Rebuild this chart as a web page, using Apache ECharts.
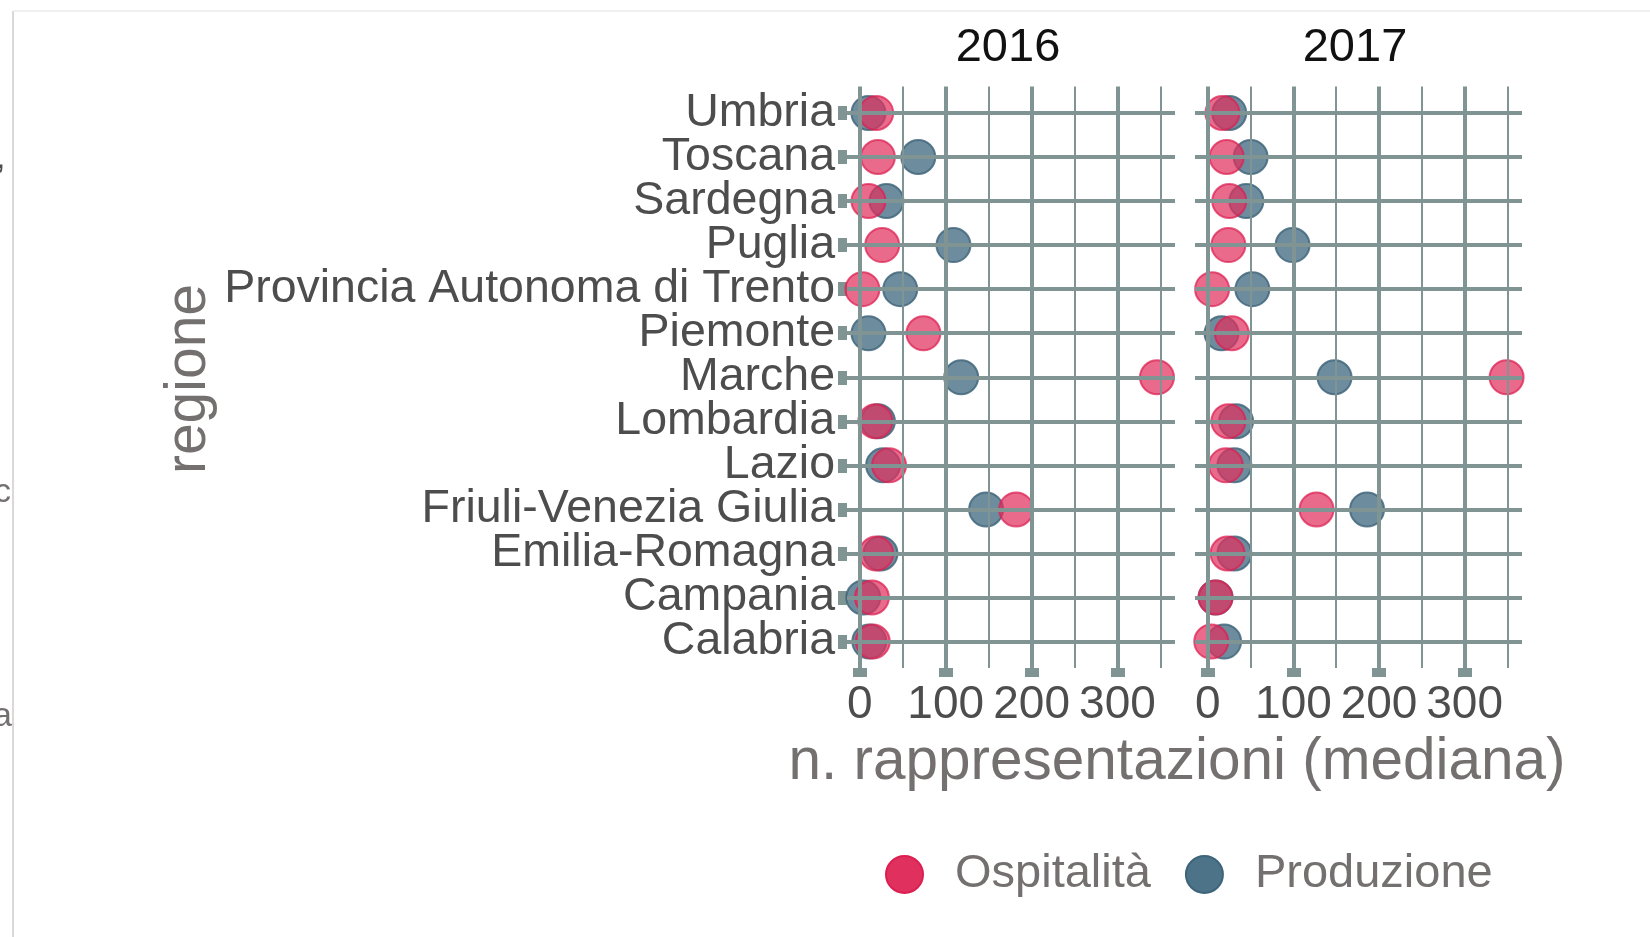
<!DOCTYPE html>
<html><head><meta charset="utf-8">
<script src="https://cdn.jsdelivr.net/npm/echarts@6/dist/echarts.min.js"></script>
<style>html,body{margin:0;padding:0;background:#fff}#c{width:1650px;height:937px}</style>
</head><body><div id="c"></div>
<script>
// ---- data (bottom-to-top order, as in the plot) ----
const regions = ['Calabria','Campania','Emilia-Romagna','Friuli-Venezia Giulia','Lazio','Lombardia','Marche','Piemonte','Provincia Autonoma di Trento','Puglia','Sardegna','Toscana','Umbria'];
const years = ['2016','2017'];
const ospitalita2016 = [15,14,19,182,34,18,346,74,3,26,10,21,19];
const produzione2016 = [11,4,24,147,27,21,118,10,47,109,31,68,10];
const ospitalita2017 = [4,9,23,127,21,24,349,28,5,24,25,22,17];
const produzione2017 = [19,9,31,186,31,33,148,16,52,99,45,50,25];
const majorTicks = [0,100,200,300];
const minorTicks = [50,150,250,350];
const seriesNames = ['Ospitalità','Produzione'];
const xTitle = 'n. rappresentazioni (mediana)';
const yTitle = 'regione';

// ---- styling ----
const FONT = 'Liberation Sans, Arial, Helvetica, sans-serif';
const GRID_COLOR = '#809494';
const colors = {
  'Ospitalità': {fill:'#e0305e', border:'#dc1f50', opacity:0.72},
  'Produzione': {fill:'#4d7389', border:'#3e6479', opacity:0.82}
};
const yIdx = regions.map((_, i) => i);

const chart = echarts.init(document.getElementById('c'), null, {renderer:'canvas'});

// panel geometry: y range is [-0.6, 12.6] (13.2 units) -> row step = 581.5/13.2
const PANEL_TOP = 86.5, PANEL_H = 581.5;
const STEP = PANEL_H / 13.2;
const grids = [
  {left:847, top:PANEL_TOP, width:328, height:PANEL_H},
  {left:1195, top:PANEL_TOP, width:327, height:PANEL_H},
  // label grid: category bands aligned with the value rows
  {left:847, top:PANEL_TOP + 0.1*STEP, width:328, height:13*STEP}
];

function xAxis(gi){
  return {
    type:'value', gridIndex:gi, min:-15, max:367,
    axisLine:{show:false, onZero:false}, splitLine:{show:false},
    axisTick:{show:true, customValues:majorTicks, length:9, lineStyle:{color:GRID_COLOR, width:14}},
    axisLabel:{show:true, customValues:majorTicks, fontSize:46, color:'#4d4d4d', margin:14, fontFamily:FONT,
      showMinLabel:true, showMaxLabel:true}
  };
}
function yAxis(gi){
  return {
    type:'value', gridIndex:gi, min:-0.6, max:12.6,
    axisLine:{show:false, onZero:false}, splitLine:{show:false},
    axisTick:{show:false}, axisLabel:{show:false}
  };
}

function gridSeries(gi){
  const data = [];
  majorTicks.forEach(v=>data.push({xAxis:v, lineStyle:{width:4}}));
  minorTicks.forEach(v=>data.push({xAxis:v, lineStyle:{width:2}}));
  yIdx.forEach(v=>data.push({yAxis:v, lineStyle:{width:4}}));
  return {
    type:'scatter', xAxisIndex:gi, yAxisIndex:gi, data:[], z:1, silent:true,
    markLine:{silent:true, symbol:['none','none'], animation:false, label:{show:false},
      lineStyle:{color:GRID_COLOR, type:'solid', width:2}, emphasis:{disabled:true}, data:data}
  };
}

function pts(arr){ return arr.map((v,i)=>[v,i]); }
function dotSeries(name, gi, arr){
  return {
    name:name, type:'scatter', xAxisIndex:gi, yAxisIndex:gi, z:3,
    symbol:'circle', symbolSize:34, clip:false,
    itemStyle:{color:colors[name].fill, borderColor:colors[name].border, borderWidth:2, opacity:colors[name].opacity},
    emphasis:{disabled:true},
    data:pts(arr)
  };
}

const option = {
  animation:false,
  backgroundColor:'#ffffff',
  grid:grids,
  xAxis:[xAxis(0), xAxis(1),
    {type:'value', gridIndex:2, min:0, max:1, show:false}],
  yAxis:[yAxis(0), yAxis(1),
    {type:'category', gridIndex:2, data:regions, boundaryGap:true,
     axisLine:{show:false, onZero:false}, splitLine:{show:false},
     axisTick:{show:true, alignWithLabel:true, interval:0, length:9, lineStyle:{color:GRID_COLOR, width:14}},
     axisLabel:{show:true, interval:0, fontSize:46.5, color:'#4d4d4d', margin:12, fontFamily:FONT}}
  ],
  legend:{
    data:seriesNames, left:880, top:846, orient:'horizontal',
    icon:'circle', itemWidth:37, itemHeight:37, itemGap:34,
    itemStyle:{opacity:1, borderWidth:2},
    textStyle:{fontSize:47, color:'#757070', fontFamily:FONT, padding:[0,0,0,27]},
    selectedMode:false
  },
  series:[
    gridSeries(0), gridSeries(1),
    dotSeries('Produzione',0,produzione2016),
    dotSeries('Ospitalità',0,ospitalita2016),
    dotSeries('Produzione',1,produzione2017),
    dotSeries('Ospitalità',1,ospitalita2017)
  ],
  graphic:[
    {type:'line', shape:{x1:13,y1:11,x2:13,y2:937}, style:{stroke:'#cccccc', lineWidth:1.5}, silent:true},
    {type:'line', shape:{x1:13,y1:11,x2:1650,y2:11}, style:{stroke:'#ebebeb', lineWidth:1.5}, silent:true},
    {type:'text', x:-4, y:142, style:{text:',', font:'34px '+FONT, fill:'#4d4d4d'}},
    {type:'text', x:-6, y:476, style:{text:'c', font:'34px '+FONT, fill:'#757070'}},
    {type:'text', x:-7, y:700, style:{text:'a', font:'34px '+FONT, fill:'#757070'}},
    {type:'text', x:1008, y:48, style:{text:years[0], font:'47px '+FONT, fill:'#111111', textAlign:'center', textVerticalAlign:'middle'}},
    {type:'text', x:1355, y:48, style:{text:years[1], font:'47px '+FONT, fill:'#111111', textAlign:'center', textVerticalAlign:'middle'}},
    {type:'text', x:1177, y:763, style:{text:xTitle, font:'58.5px '+FONT, fill:'#757070', textAlign:'center', textVerticalAlign:'middle'}},
    {type:'text', x:189, y:379, rotation:Math.PI/2, style:{text:yTitle, font:'57px '+FONT, fill:'#757070', textAlign:'center', textVerticalAlign:'middle'}}
  ]
};
chart.setOption(option);
</script>
</body></html>
